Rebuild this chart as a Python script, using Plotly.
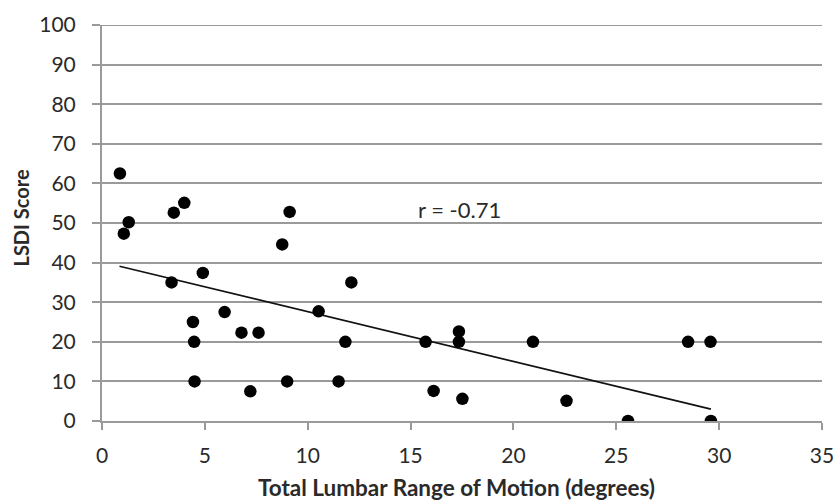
import plotly.graph_objects as go

# Data
rom_deg = [0.87, 1.30, 1.06, 3.49, 4.00, 4.90, 3.38, 8.76, 9.12, 5.96,
           4.42, 6.78, 7.61, 4.48, 4.50, 7.21, 9.00, 12.12, 10.53, 11.83,
           15.73, 17.35, 17.35, 11.50, 16.12, 17.52, 20.95, 28.49, 29.58,
           22.58, 25.57, 29.60]
lsdi_score = [62.5, 50.2, 47.3, 52.6, 55.1, 37.4, 35.0, 44.6, 52.8, 27.5,
              25.0, 22.3, 22.3, 20.0, 10.0, 7.5, 10.0, 35.0, 27.7, 20.0,
              20.0, 22.6, 20.0, 10.0, 7.6, 5.6, 20.0, 20.0, 20.0,
              5.1, 0.0, 0.0]

trend_x = [0.85, 29.6]
trend_y = [39.1, 3.0]

x_ticks = [0, 5, 10, 15, 20, 25, 30, 35]
y_ticks = [0, 10, 20, 30, 40, 50, 60, 70, 80, 90, 100]

r_label = "r = -0.71"
x_title = "Total Lumbar Range of Motion (degrees)"
y_title = "LSDI Score"

FONT = "Lato"
GRID = "#9a9a9a"
TXT = "#2a2a2a"

fig = go.Figure()
fig.add_trace(go.Scatter(x=trend_x, y=trend_y, mode="lines",
                         line=dict(color="#111111", width=1.6),
                         showlegend=False, hoverinfo="skip"))
fig.add_trace(go.Scatter(x=rom_deg, y=lsdi_score, mode="markers",
                         marker=dict(color="#000000", size=12.5),
                         showlegend=False))

# top gridline (Plotly omits the gridline at the range edge)
fig.add_shape(type="line", xref="paper", yref="y", x0=0, x1=1, y0=y_ticks[-1], y1=y_ticks[-1],
              line=dict(color=GRID, width=2), layer="below")

fig.add_annotation(x=17.4, y=53.5, xref="x", yref="y", text=r_label,
                   showarrow=False, font=dict(family=FONT, size=22, color=TXT))
fig.add_annotation(x=0.492, y=-0.168, xref="paper", yref="paper", text="<b>%s</b>" % x_title,
                   showarrow=False, xanchor="center", yanchor="middle",
                   font=dict(family=FONT, size=22.5, color=TXT))
fig.add_annotation(x=-0.113, y=0.513, xref="paper", yref="paper", text="<b>%s</b>" % y_title,
                   showarrow=False, textangle=-90, xanchor="center", yanchor="middle",
                   font=dict(family=FONT, size=20, color=TXT))

fig.update_layout(
    width=839, height=503,
    margin=dict(l=102, r=17, t=25, b=82, autoexpand=False),
    paper_bgcolor="white", plot_bgcolor="white",
    font=dict(family=FONT, size=21, color=TXT),
    showlegend=False,
)
fig.update_xaxes(range=[0, 35], tickvals=x_ticks, ticktext=[str(v) for v in x_ticks],
                 showgrid=False, zeroline=False, showline=True, linecolor=GRID, linewidth=2,
                 ticks="outside", ticklen=7, tickcolor=GRID, tickwidth=1.5,
                 ticklabelstandoff=8, automargin=False,
                 tickfont=dict(family=FONT, size=21, color=TXT))
fig.update_yaxes(range=[0, 100], tickvals=y_ticks, ticktext=[str(v) for v in y_ticks],
                 showgrid=True, gridcolor=GRID, gridwidth=2, zeroline=False,
                 showline=True, linecolor=GRID, linewidth=2,
                 ticks="outside", ticklen=8, tickcolor=GRID, tickwidth=1.5,
                 ticklabelstandoff=12, automargin=False,
                 tickfont=dict(family=FONT, size=21, color=TXT))

fig.write_html("out.html")
